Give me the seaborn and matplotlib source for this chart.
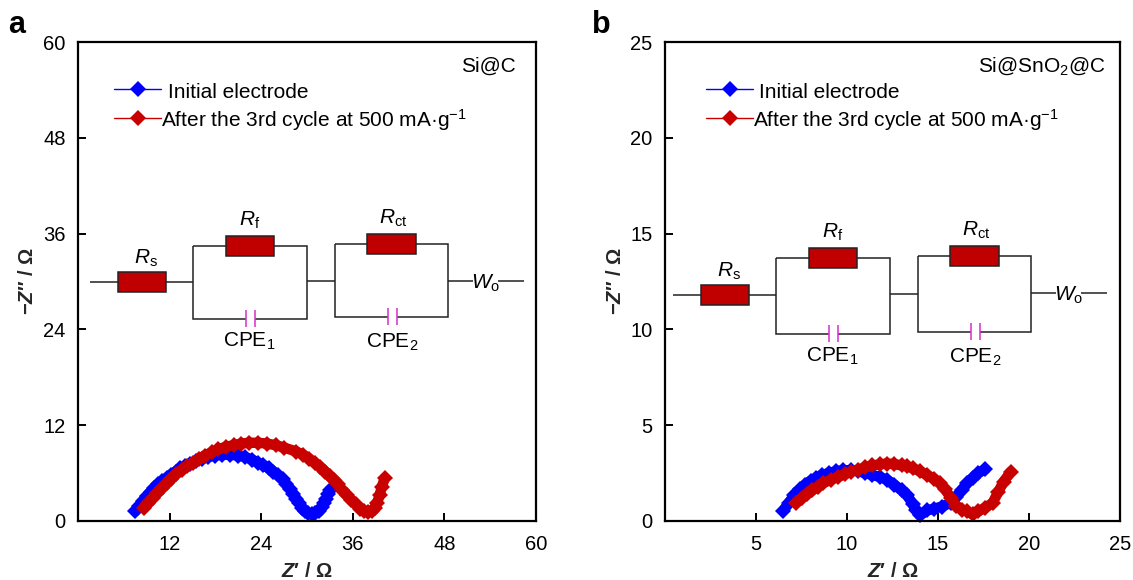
import matplotlib
matplotlib.use("Agg")
import matplotlib.pyplot as plt
from matplotlib.patches import Rectangle
import pandas as pd
import seaborn as sns

# =========================
# DATA
# =========================
a_init_x = [7.5, 8, 8.5, 9, 9.5, 10, 10.5, 11, 11.6, 12.2, 12.8, 13.4, 14, 14.7, 15.4, 16.2, 17, 17.9, 18.9, 19.9,
            20.9, 21.9, 22.8, 23.6, 24.3, 25, 25.6, 26.2, 26.8, 27.3, 27.8, 28.2, 28.6, 29, 29.3, 29.7, 30.1, 30.6,
            31.1, 31.6, 31.9, 32.2, 32.5, 32.8, 33]
a_init_y = [1.2, 1.9, 2.5, 3.1, 3.6, 4.1, 4.6, 5, 5.4, 5.8, 6.2, 6.6, 6.9, 7.2, 7.5, 7.8, 8, 8.2, 8.3, 8.3,
            8.2, 8, 7.7, 7.3, 7, 6.6, 6.2, 5.7, 5.2, 4.6, 4, 3.4, 2.8, 2.2, 1.6, 1.2, 1, 0.9,
            1, 1.2, 1.7, 2.2, 2.8, 3.4, 3.9]
a_cyc_x = [8.6, 9.2, 9.8, 10.4, 11, 11.6, 12.2, 12.9, 13.6, 14.3, 15, 15.8, 16.6, 17.5, 18.4, 19.4, 20.4, 21.4, 22.4,
           23.6, 24.7, 25.9, 27, 28.6, 29.5, 30.3, 31, 31.7, 32.4, 33, 33.5, 34, 34.6, 35.2, 35.8, 36.4, 37, 37.5,
           38, 38.5, 38.9, 39.2, 39.5, 39.8, 40.2]
a_cyc_y = [1.6, 2.2, 2.9, 3.5, 4.1, 4.7, 5.3, 5.9, 6.4, 6.9, 7.3, 7.8, 8.2, 8.6, 9, 9.3, 9.5, 9.7, 9.8,
           9.8, 9.7, 9.5, 9.2, 8.7, 8.3, 7.8, 7.3, 6.8, 6.2, 5.6, 5.1, 4.6, 3.9, 3.2, 2.6, 2.1, 1.5, 1.2,
           1.1, 1.2, 1.6, 2.3, 3.2, 4.3, 5.4]

b_init_x = [6.5, 6.8, 7.1, 7.4, 7.7, 8, 8.3, 8.6, 9, 9.4, 9.8, 10.2, 10.6, 11, 11.4, 11.8, 12.2, 12.6, 13, 13.3,
            13.6, 13.8, 14, 14.4, 14.8, 15.2, 15.7, 16, 16.3, 16.6, 16.9, 17.2, 17.6]
b_init_y = [0.54, 0.95, 1.35, 1.65, 1.9, 2.1, 2.25, 2.4, 2.5, 2.6, 2.65, 2.65, 2.6, 2.5, 2.4, 2.3, 2.15, 1.9, 1.6, 1.35,
            0.9, 0.55, 0.3, 0.55, 0.65, 0.75, 0.95, 1.25, 1.6, 1.98, 2.25, 2.5, 2.7]
b_cyc_x = [7.2, 7.5, 7.8, 8.1, 8.4, 8.7, 9.1, 9.5, 9.9, 10.2, 10.6, 11, 11.4, 11.8, 12.2, 12.6, 13, 13.3, 13.6, 14, 14.4,
           14.8, 15.1, 15.4, 15.7, 16, 16.3, 16.6, 16.9, 17.2, 17.6, 18, 18.3, 18.6, 19]
b_cyc_y = [0.94, 1.2, 1.4, 1.6, 1.8, 1.98, 2.15, 2.3, 2.45, 2.57, 2.68, 2.8, 2.9, 2.95, 3, 2.97, 2.9, 2.85, 2.76, 2.6, 2.4,
           2.2, 1.98, 1.65, 1.2, 0.8, 0.6, 0.5, 0.35, 0.5, 0.7, 0.94, 1.5, 2.05, 2.57]

a_ticks_x = [12, 24, 36, 48, 60]
a_ticks_y = [0, 12, 24, 36, 48, 60]
b_ticks_x = [5, 10, 15, 20, 25]
b_ticks_y = [0, 5, 10, 15, 20, 25]

# =========================
# STYLE
# =========================
sns.set_style("ticks")
plt.rcParams['font.family'] = ['Liberation Sans', 'DejaVu Sans']
plt.rcParams['mathtext.fontset'] = 'custom'
plt.rcParams['mathtext.rm'] = 'Liberation Sans'
plt.rcParams['mathtext.it'] = 'Liberation Sans:italic'
plt.rcParams['mathtext.bf'] = 'Liberation Sans:bold'
plt.rcParams['mathtext.bfit'] = 'Liberation Sans:italic:bold'
plt.rcParams['text.color'] = 'black'

BLUE = "#0000ff"
RED = "#c80000"
W, H = 1133, 580

fig = plt.figure(figsize=(W / 100, H / 100), dpi=100)


def panel(left, right, xmax, ymax, xticks, yticks, init_x, init_y, cyc_x, cyc_y):
    ax = fig.add_axes([left / W, (H - 521) / H, (right - left) / W, 479 / H])
    df1 = pd.DataFrame({"x": init_x, "y": init_y})
    df2 = pd.DataFrame({"x": cyc_x, "y": cyc_y})
    for df, c in [(df1, BLUE), (df2, RED)]:
        # thick line fills the gaps, the source has far more points than can be read
        sns.lineplot(data=df, x="x", y="y", sort=False, estimator=None, color=c, lw=7.5,
                     marker="D", markersize=8.5, markeredgewidth=0, markerfacecolor=c, ax=ax, clip_on=False)
    ax.set_xlim(0, xmax)
    ax.set_ylim(0, ymax)
    ax.set_xticks(xticks)
    ax.set_yticks(yticks)
    ax.tick_params(direction="in", length=5.8, width=1.4, labelsize=14.5, color="black", labelcolor="black")
    ax.tick_params(axis="x", pad=10)
    ax.tick_params(axis="y", pad=9)
    for s in ax.spines.values():
        s.set_linewidth(1.6)
        s.set_color("black")
    ax.set_xlabel(r"$\mathbfit{Z}$" + "′ / Ω", fontsize=14.5, fontweight="bold", labelpad=6)
    ax.set_ylabel("−" + r"$\mathbfit{Z}$" + "″ / Ω", fontsize=14.5, fontweight="bold", labelpad=4)
    return ax


panel(78, 536, 60, 60, a_ticks_x, a_ticks_y, a_init_x, a_init_y, a_cyc_x, a_cyc_y)
panel(665, 1120, 25, 25, b_ticks_x, b_ticks_y, b_init_x, b_init_y, b_cyc_x, b_cyc_y)

# overlay in pixel coordinates for the circuit sketch and in-plot text
ov = fig.add_axes([0, 0, 1, 1])
ov.set_xlim(0, W)
ov.set_ylim(H, 0)
ov.axis("off")
ov.patch.set_alpha(0)


def wire(xs, ys, c="#222222", lw=1.1):
    ov.plot(xs, ys, color=c, lw=lw, solid_capstyle="butt", solid_joinstyle="miter")


def resistor(x0, x1, y0, y1):
    ov.add_patch(Rectangle((x0, y0), x1 - x0, y1 - y0, fc="#c00000", ec="#222222", lw=1.1, zorder=3))


def capacitor(x0, x1, y0, y1):
    wire([x0, x0], [y0, y1], c="#d62fc8", lw=1.1)
    wire([x1, x1], [y0, y1], c="#d62fc8", lw=1.1)


def circuit(dx, p):
    wire([90 + dx, 193 + dx], [p["wl"], p["wl"]])
    resistor(118 + dx, 166 + dx, p["wl"] - 10, p["wl"] + 10)
    # first RC loop
    wire([193 + dx, 193 + dx, 307 + dx, 307 + dx, 255 + dx], [p["t1"], p["t1"], p["t1"], p["b1"], p["b1"]])
    wire([193 + dx, 193 + dx, 246 + dx], [p["t1"], p["b1"], p["b1"]])
    resistor(226 + dx, 274 + dx, p["t1"] - 10, p["t1"] + 10)
    capacitor(246 + dx, 255 + dx, p["b1"] - 9, p["b1"] + 8)
    # link
    wire([307 + dx, 335 + dx], [p["wm"], p["wm"]])
    # second RC loop
    wire([335 + dx, 335 + dx, 448 + dx, 448 + dx, 397 + dx], [p["t2"], p["t2"], p["t2"], p["b2"], p["b2"]])
    wire([335 + dx, 335 + dx, 388 + dx], [p["t2"], p["b2"], p["b2"]])
    resistor(367 + dx, 416 + dx, p["t2"] - 10, p["t2"] + 10)
    capacitor(388 + dx, 397 + dx, p["b2"] - 9, p["b2"] + 8)
    # tail
    wire([448 + dx, 473 + dx], [p["wr"], p["wr"]])
    wire([498 + dx, 524 + dx], [p["wr"], p["wr"]])
    kw = dict(fontsize=15, ha="center", va="center")
    ov.text(146 + dx, p["wl"] - 24, r"$\mathit{R}_{\mathrm{s}}$", **kw)
    ov.text(250 + dx, p["t1"] - 26, r"$\mathit{R}_{\mathrm{f}}$", **kw)
    ov.text(393 + dx, p["t2"] - 26, r"$\mathit{R}_{\mathrm{ct}}$", **kw)
    ov.text(249 + dx, p["b1"] + 22, r"CPE$_{1}$", **kw)
    ov.text(392 + dx, p["b2"] + 25, r"CPE$_{2}$", **kw)
    ov.text(486 + dx, p["wr"] + 2, r"$\mathit{W}_{\mathrm{o}}$", **kw)


circuit(0, dict(wl=282, t1=246, b1=319, wm=281, t2=244, b2=317, wr=281))
circuit(583, dict(wl=295, t1=258, b1=334, wm=294, t2=256, b2=332, wr=293))


def legend(x0, x1, x_init, x_cyc):
    mid = (x0 + x1) / 2
    ov.plot([x0, x1], [89, 89], color=BLUE, lw=1)
    ov.plot([mid], [89], marker="D", ms=8.5, mew=0, color=BLUE)
    ov.plot([x0, x1], [118, 118], color=RED, lw=1)
    ov.plot([mid], [118], marker="D", ms=8.5, mew=0, color=RED)
    ov.text(x_init, 92, "Initial electrode", fontsize=15, va="center")
    ov.text(x_cyc, 120, "After the 3rd cycle at 500 mA·g$^{−1}$", fontsize=15, va="center")


legend(114, 161, 168, 161)
legend(706, 753, 759, 753)

ov.text(516, 66, "Si@C", fontsize=15, ha="right", va="center")
ov.text(1106, 66, r"Si@SnO$_{2}$@C", fontsize=15, ha="right", va="center")
ov.text(8, 25, "a", fontsize=22, fontweight="bold", va="center")
ov.text(592, 25, "b", fontsize=22, fontweight="bold", va="center")

fig.savefig("out.png", dpi=100)
